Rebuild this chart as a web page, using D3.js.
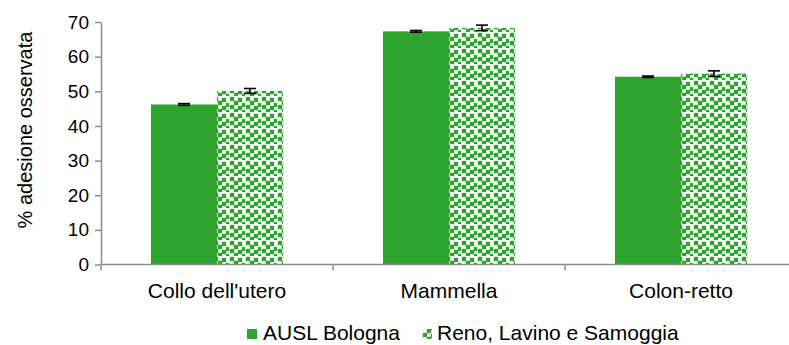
<!DOCTYPE html>
<html>
<head>
<meta charset="utf-8">
<script src="https://cdn.jsdelivr.net/npm/d3@7"></script>
<style>
  html, body { margin: 0; padding: 0; background: #fff; }
  svg { display: block; font-family: "Liberation Sans", Arial, sans-serif; }
</style>
</head>
<body>
<svg id="chart" width="789" height="345"></svg>
<script>
// Screening adherence by programme and area
const categories = ["Collo dell'utero", "Mammella", "Colon-retto"];
const seriesNames = ["AUSL Bologna", "Reno, Lavino e Samoggia"];
const auslValues = [46.2, 67.3, 54.2];
const auslErrors = [0.25, 0.25, 0.2];
const renoValues = [50.1, 68.3, 55.1];
const renoErrors = [0.7, 0.8, 0.8];
const yTicks = [0, 10, 20, 30, 40, 50, 60, 70];

const green = "#2ca42d";
const svg = d3.select("#chart");

const plotLeft = 101, plotRight = 797, plotTop = 22, plotBottom = 264.5;

// Confetti fill for the second series
const defs = svg.append("defs");
const pat = defs.append("pattern")
  .attr("id", "confetti")
  .attr("patternUnits", "userSpaceOnUse")
  .attr("width", 16).attr("height", 16);
pat.append("rect").attr("width", 16).attr("height", 16).attr("fill", "#fff");
const squares = [[1,1],[9,2],[5,5],[13,7],[1,9],[9,10],[5,13],[13,14]];
squares.forEach(([sx, sy]) => {
  pat.append("rect").attr("x", sx - 0.5).attr("y", sy - 0.5).attr("width", 5).attr("height", 5)
    .attr("fill", green).attr("opacity", 0.35);
  pat.append("rect").attr("x", sx).attr("y", sy).attr("width", 4).attr("height", 4)
    .attr("fill", green);
});

const x0 = d3.scaleBand().domain(categories).range([plotLeft, plotRight]).padding(0);
const x1 = d3.scaleBand().domain(seriesNames).range([0, x0.bandwidth()])
  .paddingInner(0).paddingOuter(0.758);
const y = d3.scaleLinear().domain([0, 70]).range([plotBottom, plotTop]);

const rows = categories.map((c, i) => ({
  cat: c,
  items: [
    { name: seriesNames[0], value: auslValues[i], err: auslErrors[i], fill: green },
    { name: seriesNames[1], value: renoValues[i], err: renoErrors[i], fill: "url(#confetti)" }
  ]
}));

const groups = svg.append("g").selectAll("g").data(rows).join("g")
  .attr("transform", d => `translate(${x0(d.cat)},0)`);

groups.selectAll("rect.bar").data(d => d.items).join("rect")
  .attr("class", "bar")
  .attr("x", d => x1(d.name))
  .attr("width", x1.bandwidth())
  .attr("y", d => y(d.value))
  .attr("height", d => y(0) - y(d.value))
  .attr("fill", d => d.fill);

// Error bars
const capW = 12;
const eb = groups.selectAll("g.err").data(d => d.items).join("g").attr("class", "err")
  .attr("stroke", "#000").attr("stroke-width", 1.6);
eb.append("line")
  .attr("x1", d => x1(d.name) + x1.bandwidth() / 2)
  .attr("x2", d => x1(d.name) + x1.bandwidth() / 2)
  .attr("y1", d => y(d.value + d.err)).attr("y2", d => y(d.value - d.err));
eb.append("line")
  .attr("x1", d => x1(d.name) + x1.bandwidth() / 2 - capW / 2)
  .attr("x2", d => x1(d.name) + x1.bandwidth() / 2 + capW / 2)
  .attr("y1", d => y(d.value + d.err)).attr("y2", d => y(d.value + d.err));
eb.append("line")
  .attr("x1", d => x1(d.name) + x1.bandwidth() / 2 - capW / 2)
  .attr("x2", d => x1(d.name) + x1.bandwidth() / 2 + capW / 2)
  .attr("y1", d => y(d.value - d.err)).attr("y2", d => y(d.value - d.err));

// Y axis
const axisColor = "#8c8c8c";
const yAxis = svg.append("g")
  .attr("transform", `translate(${plotLeft},0)`)
  .call(d3.axisLeft(y).tickValues(yTicks).tickSize(6).tickPadding(6).tickSizeOuter(0));
yAxis.select(".domain").attr("stroke", axisColor).attr("stroke-width", 1.5);
yAxis.selectAll(".tick line").attr("stroke", axisColor).attr("stroke-width", 1.5);
yAxis.selectAll(".tick text").attr("font-size", 19).attr("fill", "#000")
  .attr("font-family", "Liberation Sans, Arial, sans-serif");

// X axis: category labels centered, tick marks at band boundaries
const xAxis = svg.append("g").attr("transform", `translate(0,${plotBottom})`);
xAxis.append("line").attr("x1", plotLeft).attr("x2", plotRight).attr("stroke", axisColor).attr("stroke-width", 1.5);
xAxis.selectAll("line.tk").data(categories).join("line").attr("class", "tk")
  .attr("x1", d => x0(d)).attr("x2", d => x0(d))
  .attr("y1", 0).attr("y2", 6).attr("stroke", axisColor).attr("stroke-width", 1.5);
xAxis.selectAll("text").data(categories).join("text")
  .attr("x", d => x0(d) + x0.bandwidth() / 2)
  .attr("y", 33)
  .attr("text-anchor", "middle").attr("font-size", 21).attr("fill", "#000")
  .text(d => d);

// Y axis title
svg.append("text")
  .attr("transform", `translate(32,130) rotate(-90)`)
  .attr("text-anchor", "middle").attr("font-size", 20).attr("fill", "#000")
  .text("% adesione osservata");

// Legend
const legend = svg.append("g").attr("transform", "translate(247,340)");
const lg1 = legend.append("g");
lg1.append("rect").attr("x", 0).attr("y", -11).attr("width", 10).attr("height", 10).attr("fill", green);
lg1.append("text").attr("x", 16).attr("y", 0).attr("font-size", 21).text(seriesNames[0]);
const lg2 = legend.append("g").attr("transform", "translate(175,0)");
lg2.append("rect").attr("x", 0).attr("y", -11).attr("width", 10).attr("height", 10).attr("fill", "url(#confetti)");
lg2.append("text").attr("x", 15).attr("y", 0).attr("font-size", 21).text(seriesNames[1]);
</script>
</body>
</html>
